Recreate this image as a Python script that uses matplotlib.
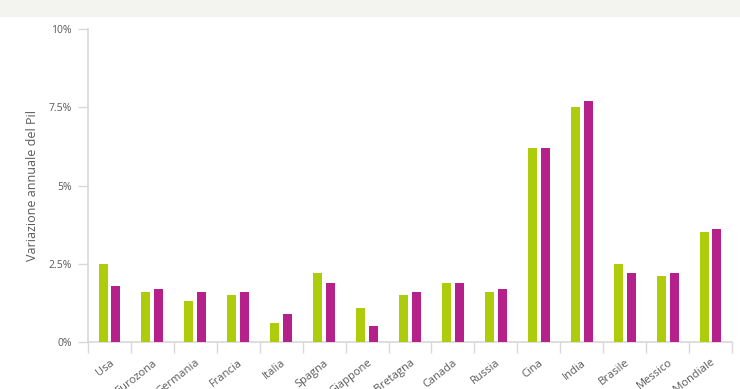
import matplotlib
matplotlib.use('Agg')
import matplotlib.pyplot as plt
import numpy as np

paesi = ["Usa", "Eurozona", "Germania", "Francia", "Italia", "Spagna", "Giappone",
         "Gran Bretagna", "Canada", "Russia", "Cina", "India", "Brasile", "Messico",
         "Media Mondiale"]
serie_verde = [2.5, 1.6, 1.3, 1.5, 0.6, 2.2, 1.1, 1.5, 1.9, 1.6, 6.2, 7.5, 2.5, 2.1, 3.5]
serie_viola = [1.8, 1.7, 1.6, 1.6, 0.9, 1.9, 0.5, 1.6, 1.9, 1.7, 6.2, 7.7, 2.2, 2.2, 3.6]
y_ticks = [0, 2.5, 5, 7.5, 10]
y_labels = ["0%", "2.5%", "5%", "7.5%", "10%"]

VERDE = "#aecb0c"
VIOLA = "#b5208a"
GRIGIO = "#d8d8d8"
TESTO = "#5a5a5a"

plt.rcParams['font.family'] = ['Open Sans', 'DejaVu Sans']

fig = plt.figure(figsize=(7.4, 3.89), dpi=100)
# fascia grigia in alto
fig.patches.append(plt.Rectangle((0, 1 - 16 / 389), 1, 16 / 389, transform=fig.transFigure,
                                 color="#f3f3ef", zorder=0))

ax = fig.add_axes([0.1189, 0.1208, 0.8703, 0.8046])
x = np.arange(len(paesi))
w = 0.21
ax.bar(x - 0.15, serie_verde, width=w, color=VERDE, zorder=3)
ax.bar(x + 0.15, serie_viola, width=w, color=VIOLA, zorder=3)

ax.set_xlim(-0.5, len(paesi) - 0.5)
ax.set_ylim(0, 10)

for s in ["top", "right"]:
    ax.spines[s].set_visible(False)
ax.spines["left"].set_color(GRIGIO)
ax.spines["bottom"].set_color(GRIGIO)
ax.spines["left"].set_linewidth(1.2)
ax.spines["bottom"].set_linewidth(1.2)

ax.set_yticks(y_ticks)
ax.set_yticklabels(y_labels)
ax.tick_params(axis="y", length=7.5, width=1, color=GRIGIO, labelcolor=TESTO, labelsize=7.5, pad=4)

ax.set_xticks(np.arange(-0.5, len(paesi), 1.0))
ax.set_xticklabels([])
ax.tick_params(axis="x", which="major", length=8, width=1, color=GRIGIO)
ax.set_xticks(x, minor=True)
ax.set_xticklabels(paesi, minor=True, rotation=38, ha="right", va="top",
                   rotation_mode="anchor", color=TESTO, fontsize=8)
ax.tick_params(axis="x", which="minor", length=0, pad=11)

ax.set_ylabel("Variazione annuale del Pil", color=TESTO, fontsize=9, labelpad=7)

fig.savefig("out.png", dpi=100, facecolor="white")
